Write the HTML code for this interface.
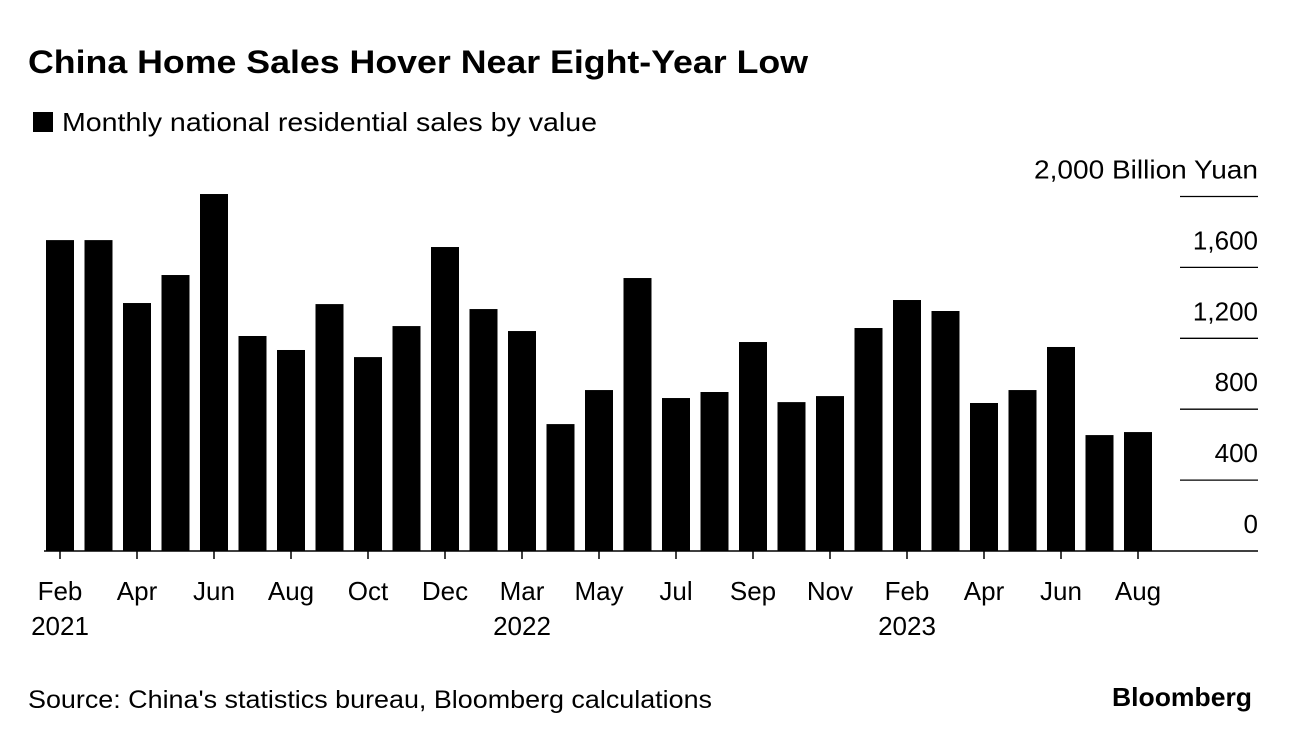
<!DOCTYPE html>
<html><head><meta charset="utf-8"><style>
body{margin:0;background:#fff;font-family:"Liberation Sans",Arial,sans-serif;}
svg text{font-family:"Liberation Sans",Arial,sans-serif;fill:#000;}
</style></head><body>
<svg width="1292" height="742" viewBox="0 0 1292 742" xmlns="http://www.w3.org/2000/svg">
<text x="28" y="73" font-size="32" font-weight="bold" textLength="780" lengthAdjust="spacingAndGlyphs">China Home Sales Hover Near Eight-Year Low</text>
<g>
<rect x="33" y="112" width="20" height="20" fill="#000"/>
<text x="62" y="131" font-size="26" textLength="535" lengthAdjust="spacingAndGlyphs">Monthly national residential sales by value</text>
</g>
<g id="grid"></g><g id="bars"></g><g id="xaxis"></g>
<text x="28" y="708" font-size="25" textLength="684" lengthAdjust="spacingAndGlyphs">Source: China's statistics bureau, Bloomberg calculations</text>
<text x="1112" y="706" font-size="26" font-weight="bold" textLength="140" lengthAdjust="spacingAndGlyphs">Bloomberg</text>
</svg>
<script>
const categories=["Feb 2021","Mar 2021","Apr 2021","May 2021","Jun 2021","Jul 2021","Aug 2021","Sep 2021","Oct 2021","Nov 2021","Dec 2021","Feb 2022","Mar 2022","Apr 2022","May 2022","Jun 2022","Jul 2022","Aug 2022","Sep 2022","Oct 2022","Nov 2022","Dec 2022","Feb 2023","Mar 2023","Apr 2023","May 2023","Jun 2023","Jul 2023","Aug 2023"];
const values=[1754,1754,1399,1557,2014,1213,1134,1393,1094,1269,1715,1365,1241,716,908,1540,863,897,1179,840,874,1258,1416,1354,835,908,1151,654,671];
const yTicks=[0,400,800,1200,1600,2000];
const yTickLabels=["0","400","800","1,200","1,600","2,000 Billion Yuan"];
const xLabelIdx=[0,2,4,6,8,10,12,14,16,18,20,22,24,26,28];
const xLabelTop=["Feb","Apr","Jun","Aug","Oct","Dec","Mar","May","Jul","Sep","Nov","Feb","Apr","Jun","Aug"];
const xLabelYear=["2021","","","","","","2022","","","","","2023","","",""];
const NS="http://www.w3.org/2000/svg";
const y0=551,pxPer=70.9/400;
const yS=v=>y0-v*pxPer;
const xS=i=>60+i*38.5;
function mk(t,a,p){const e=document.createElementNS(NS,t);for(const k in a)e.setAttribute(k,a[k]);p.appendChild(e);return e;}
const grid=document.getElementById('grid'),bars=document.getElementById('bars'),xa=document.getElementById('xaxis');
yTicks.forEach((v,i)=>{
 if(i>0){const l=mk('line',{x1:1180,x2:1258,y1:yS(v),y2:yS(v),stroke:'#000','stroke-width':1.3},grid);
 
 }
 const a={x:1258,y:yS(v)-18,'font-size':26,'text-anchor':'end'};
 if(i===yTicks.length-1){a.textLength=224;a.lengthAdjust='spacingAndGlyphs';}
 const t=mk('text',a,grid);t.textContent=yTickLabels[i];
 
 
});
values.forEach((v,i)=>{
 const r=mk('rect',{x:xS(i)-14,y:yS(v),width:28,height:y0-yS(v),fill:'#000'},bars);
 
 
});
const ax=mk('line',{x1:44,x2:1258,y1:y0,y2:y0,stroke:'#000','stroke-width':1.5},xa);


xLabelIdx.forEach((idx,k)=>{
 const tk=mk('line',{x1:xS(idx),x2:xS(idx),y1:y0,y2:y0+8,stroke:'#000','stroke-width':1.5},xa);
 
 
 const t=mk('text',{x:xS(idx),y:600,'font-size':26,'text-anchor':'middle'},xa);t.textContent=xLabelTop[k];
 
 
 if(xLabelYear[k]){const t2=mk('text',{x:xS(idx),y:635,'font-size':26,'text-anchor':'middle'},xa);t2.textContent=xLabelYear[k];
 
 }
});
</script>
</body></html>
